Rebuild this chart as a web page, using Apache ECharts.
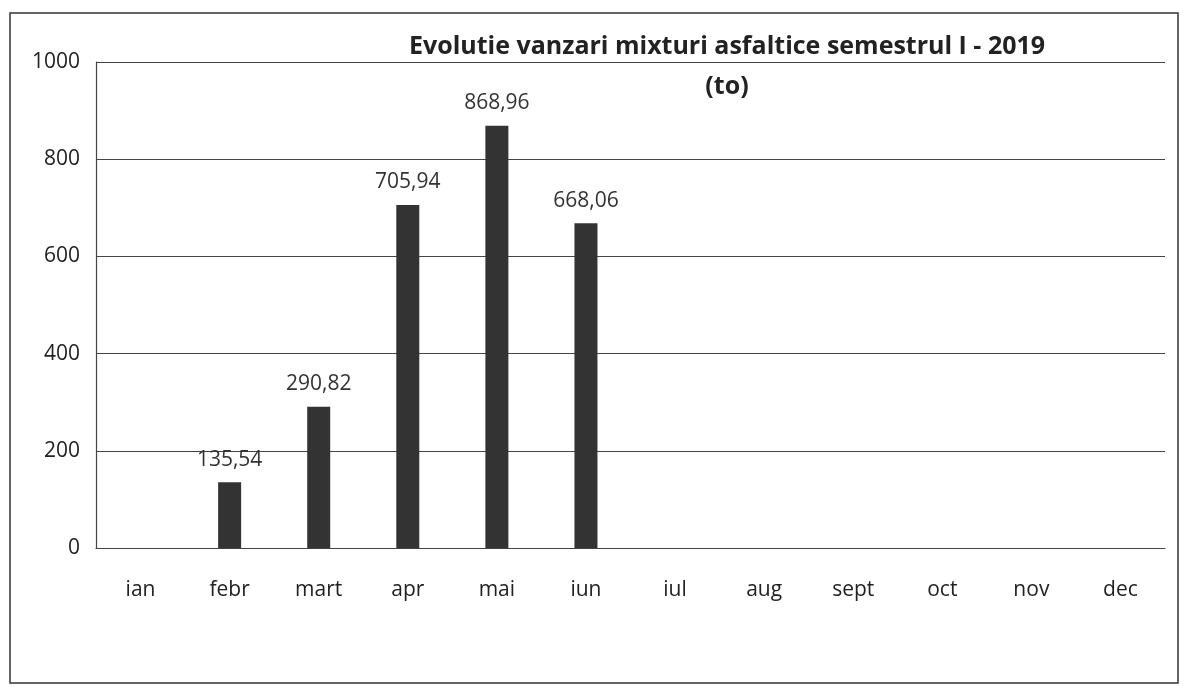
<!DOCTYPE html>
<html>
<head>
<meta charset="utf-8">
<script src="https://cdn.jsdelivr.net/npm/echarts@6/dist/echarts.min.js"></script>
<style>
  html, body { margin: 0; padding: 0; background: #fff; }
  #chart { width: 1187px; height: 690px; }
</style>
</head>
<body>
<div id="chart"></div>
<script>
var months = ['ian', 'febr', 'mart', 'apr', 'mai', 'iun', 'iul', 'aug', 'sept', 'oct', 'nov', 'dec'];
var sales = [null, 135.54, 290.82, 705.94, 868.96, 668.06, null, null, null, null, null, null];
var yTicks = [0, 200, 400, 600, 800, 1000];

var chart = echarts.init(document.getElementById('chart'));
var font = '"Open Sans", Lato, sans-serif';

var option = {
    backgroundColor: '#fff',
    animation: false,
    title: {
        text: 'Evolutie vanzari mixturi asfaltice semestrul I - 2019\n(to)',
        left: 722,
        top: 22,
        textAlign: 'center',
        textStyle: {
            fontFamily: font,
            fontSize: 25,
            fontWeight: 'bold',
            color: '#222',
            lineHeight: 40,
            align: 'center'
        }
    },
    graphic: [{
        type: 'rect',
        shape: { x: 10, y: 13, width: 1168, height: 670 },
        style: { fill: 'none', stroke: '#333', lineWidth: 1.5 }
    }],
    grid: { left: 96, right: 22, top: 62, bottom: 142 },
    xAxis: {
        type: 'category',
        data: months,
        axisLine: { lineStyle: { color: '#444', width: 1.2 } },
        axisTick: { show: false },
        axisLabel: {
            margin: 32,
            fontFamily: font,
            fontSize: 21,
            color: '#222'
        }
    },
    yAxis: {
        type: 'value',
        min: yTicks[0],
        max: yTicks[yTicks.length - 1],
        interval: 200,
        axisLine: { show: true, lineStyle: { color: '#444', width: 1.2 } },
        axisTick: { show: false },
        axisLabel: {
            margin: 16,
            fontFamily: font,
            fontSize: 21,
            color: '#222',
            formatter: function (v) { return String(v); }
        },
        splitLine: { lineStyle: { color: '#444', width: 1.2 } }
    },
    series: [{
        type: 'bar',
        data: sales,
        barWidth: 23,
        itemStyle: { color: '#333' },
        label: {
            show: true,
            position: 'top',
            distance: 12,
            fontFamily: font,
            fontSize: 21,
            color: '#333',
            formatter: function (p) {
                return p.value == null ? '' : p.value.toFixed(2).replace('.', ',');
            }
        }
    }]
};

chart.setOption(option);
</script>
</body>
</html>
